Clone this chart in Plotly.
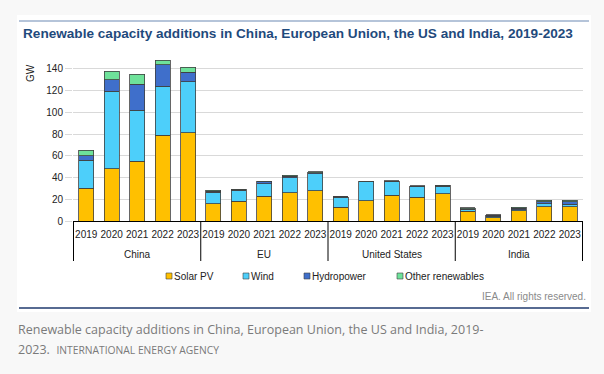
import plotly.graph_objects as go

countries = ["China", "EU", "United States", "India"]
years = ["2019", "2020", "2021", "2022", "2023"]

solar_pv = [30, 48, 55, 79, 81,
            16, 18, 23, 26, 28,
            12.5, 18.5, 23.5, 22, 25,
            9, 3, 9.5, 13, 13.2]
wind = [26, 71.5, 47, 45, 47,
        10.5, 10.5, 11.5, 14, 15.5,
        9.5, 17.5, 13, 9.5, 7,
        2, 1.3, 1, 2.7, 2.4]
hydropower = [4, 10.5, 24, 20, 9,
              1, 0.3, 1.5, 1, 1,
              0.2, 0.3, 0.3, 0.3, 0.3,
              0.3, 0.9, 1.3, 1.8, 1.9]
other_renewables = [5, 8, 9, 4, 4.5,
                    1, 0.3, 0.6, 1, 1,
                    0.3, 0.5, 0.3, 0.5, 0.5,
                    0.7, 0.6, 0.9, 1.8, 1.5]

series = [("Solar PV", solar_pv, "#FFC000"),
          ("Wind", wind, "#4DCFFA"),
          ("Hydropower", hydropower, "#3F6FCB"),
          ("Other renewables", other_renewables, "#6EE29A")]

x_keys = [f"{c} {y}" for c in countries for y in years]
x_ticktext = [y for _ in countries for y in years]

W, H = 604, 374
L, R, T, B = 73, 21, 58, 153
PW, PH = W - L - R, H - T - B

def px(x):
    return (x - L) / PW

def py(y):
    return (H - B - y) / PH

font = "Liberation Sans, Arial, sans-serif"
cap_font = "Open Sans, sans-serif"

fig = go.Figure()
for name, vals, col in series:
    fig.add_trace(go.Bar(x=x_keys, y=vals, name=name, marker_color=col,
                         marker_line_color="#404040", marker_line_width=0.8,
                         showlegend=False))

shapes = [
    dict(type="rect", xref="paper", yref="paper", x0=px(17), x1=px(591), y0=py(312), y1=py(15),
         fillcolor="white", line_width=0, layer="below"),
    dict(type="line", xref="paper", yref="paper", x0=px(19), x1=px(589), y0=py(21), y1=py(21),
         line=dict(color="#9db0cc", width=1.5)),
    dict(type="line", xref="paper", yref="paper", x0=px(19), x1=px(589), y0=py(308), y1=py(308),
         line=dict(color="#1f3a6e", width=1.5)),
]
# group dividers below the axis
n = len(years)
for i in range(len(countries) + 1):
    xv = i * n - 0.5
    shapes.append(dict(type="line", xref="x", yref="paper", x0=xv, x1=xv, y0=0, y1=py(261),
                       line=dict(color="#000", width=1)))

annotations = [
    dict(text="<b>Renewable capacity additions in China, European Union, the US and India, 2019-2023</b>",
         xref="paper", yref="paper", x=px(21), y=py(34), xanchor="left", yanchor="middle",
         showarrow=False, font=dict(size=13.6, color="#1f4a7c", family=font)),
    dict(text="GW", xref="paper", yref="paper", x=px(30), y=py(73), xanchor="center", yanchor="middle",
         textangle=-90, showarrow=False, font=dict(size=10, color="#222", family=font)),
    dict(text="IEA. All rights reserved.", xref="paper", yref="paper", x=px(588), y=py(296),
         xanchor="right", yanchor="middle", showarrow=False,
         font=dict(size=10, color="#8a8a8a", family=font)),
    dict(text="Renewable capacity additions in China, European Union, the US and India, 2019-",
         xref="paper", yref="paper", x=px(16), y=py(329), xanchor="left", yanchor="middle",
         showarrow=False, font=dict(size=12.5, color="#7a7a7a", family=cap_font)),
    dict(text="2023.  <span style='font-size:10.3px'>INTERNATIONAL ENERGY AGENCY</span>",
         xref="paper", yref="paper", x=px(16), y=py(349), xanchor="left", yanchor="middle",
         showarrow=False, font=dict(size=12.5, color="#7a7a7a", family=cap_font)),
]
for i, c in enumerate(countries):
    annotations.append(dict(text=c, xref="x", yref="paper", x=i * n + (n - 1) / 2, y=py(255),
                            xanchor="center", yanchor="middle", showarrow=False,
                            font=dict(size=10, color="#222", family=font)))

# custom legend (small outlined squares + labels)
legend_x = [166, 243, 304, 397]
for (name, _, col), lx in zip(series, legend_x):
    shapes.append(dict(type="rect", xref="paper", yref="paper",
                       x0=px(lx), x1=px(lx + 6), y0=py(279), y1=py(273),
                       fillcolor=col, line=dict(color="#404040", width=0.6)))
    annotations.append(dict(text=name, xref="paper", yref="paper", x=px(lx + 6), y=py(276),
                            xanchor="left", yanchor="middle", showarrow=False,
                            font=dict(size=10, color="#222", family=font)))

fig.update_layout(
    width=W, height=H,
    margin=dict(l=L, r=R, t=T, b=B, autoexpand=False),
    barmode="stack", bargap=0.41,
    paper_bgcolor="#f8f8f8", plot_bgcolor="white",
    font=dict(family=font, size=10, color="#222"),
    showlegend=False,
    xaxis=dict(type="category", categoryorder="array", categoryarray=x_keys,
               tickvals=x_keys, ticktext=x_ticktext, tickangle=0,
               showline=True, linecolor="#000", linewidth=1, showgrid=False,
               ticks="outside", ticklen=4, tickcolor="rgba(0,0,0,0)",
               tickfont=dict(size=10, color="#222", family=font)),
    yaxis=dict(range=[0, 150], tickvals=[0, 20, 40, 60, 80, 100, 120, 140],
               showgrid=True, gridcolor="#d9d9d9", gridwidth=1, zeroline=False,
               ticks="outside", ticklen=7, tickcolor="#d9d9d9",
               tickfont=dict(size=10, color="#222", family=font), showline=False),
    shapes=shapes,
    annotations=annotations,
)

fig.write_html("out.html", config={"displayModeBar": False},
               post_script="document.body.style.margin='0';")
